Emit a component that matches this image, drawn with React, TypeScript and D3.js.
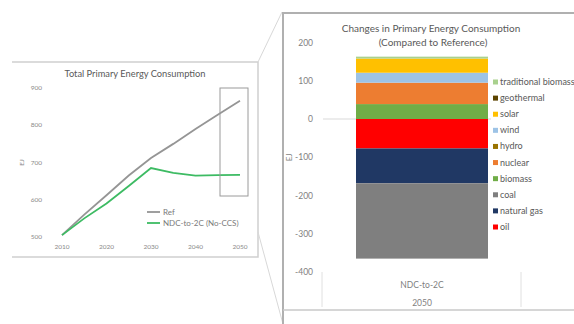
import React from 'react';
import * as d3 from 'd3';

// left chart: total primary energy consumption (EJ)
const years = [2010, 2015, 2020, 2025, 2030, 2035, 2040, 2045, 2050];
const refValues = [505, 560, 612, 665, 712, 750, 790, 828, 866];
const ndcValues = [505, 550, 590, 637, 685, 672, 665, 666, 667];
const leftYTicks = [500, 600, 700, 800, 900];
const leftXTicks = [2010, 2020, 2030, 2040, 2050];

// right chart: changes in 2050 vs reference (EJ), stacking order
const fuels = ['oil', 'natural gas', 'coal', 'biomass', 'nuclear', 'hydro', 'wind', 'solar', 'geothermal', 'traditional biomass'];
const changes = [-77, -91, -197, 39, 56, 0, 26, 37, 0, 5];
const fuelColors = ['#ff0000', '#203864', '#7f7f7f', '#70ad47', '#ed7d31', '#997300', '#9dc3e6', '#ffc000', '#5c4400', '#a9d18e'];
const rightYTicks = [200, 100, 0, -100, -200, -300, -400];
const scenario = 'NDC-to-2C';
const scenarioYear = '2050';

const FONT = 'Lato, "Open Sans", sans-serif';

function LeftChart() {
  const x = d3.scaleLinear().domain([2010, 2050]).range([62, 240]);
  const y = d3.scaleLinear().domain([500, 900]).range([237, 88]);
  const line = d3.line<number>().x((_, i) => x(years[i])).y(d => y(d));
  return (
    <g fontFamily={FONT}>
      <path d="M12,62H258V257H12" fill="#fff" stroke="#d0d0d0" strokeWidth={1.5} />
      <text x={135} y={77} textAnchor="middle" fontSize={9.3} fill="#595959">Total Primary Energy Consumption</text>
      {leftYTicks.map(t => (
        <text key={t} x={42} y={y(t) + 2} textAnchor="end" fontSize={6.5} fill="#8a8a8a">{t}</text>
      ))}
      <text transform={`translate(22,${y(700)}) rotate(-90)`} textAnchor="middle" fontSize={6.5} fill="#8a8a8a" dy={2}>EJ</text>
      {leftXTicks.map(t => (
        <text key={t} x={x(t)} y={249} textAnchor="middle" fontSize={6.5} fill="#8a8a8a">{t}</text>
      ))}
      <path d={line(refValues) || ''} fill="none" stroke="#959595" strokeWidth={1.8} />
      <path d={line(ndcValues) || ''} fill="none" stroke="#3dbb63" strokeWidth={1.8} />
      <line x1={147} x2={160} y1={212} y2={212} stroke="#959595" strokeWidth={1.8} />
      <text x={163} y={215} fontSize={8} fill="#7a7a7a">Ref</text>
      <line x1={147} x2={160} y1={223} y2={223} stroke="#3dbb63" strokeWidth={1.8} />
      <text x={163} y={226} fontSize={8} fill="#7a7a7a">NDC-to-2C (No-CCS)</text>
      <rect x={220} y={88} width={28} height={108} fill="none" stroke="#9a9a9a" strokeWidth={1} />
    </g>
  );
}

function RightChart() {
  const y = d3.scaleLinear().domain([-400, 200]).range([272, 42.5]);
  const x = d3.scaleBand().domain([scenario]).range([323, 521]).paddingInner(0).paddingOuter(0.25);
  const series = d3.stack<number[]>()
    .keys(fuels.map((_, i) => String(i)))
    .value((d, k) => d[+k])
    .offset(d3.stackOffsetDiverging)([changes]);
  const legendY = d3.scalePoint().domain(d3.reverse(fuels)).range([82, 227]);
  return (
    <g fontFamily={FONT}>
      <line x1={x.range()[0]} x2={x.range()[1]} y1={y(0)} y2={y(0)} stroke="#d9d9d9" strokeWidth={1} />
      {series.map((s, i) => (
        <rect key={fuels[i]} x={x(scenario)} width={x.bandwidth()}
          y={y(s[0][1])} height={Math.max(0, y(s[0][0]) - y(s[0][1]))} fill={fuelColors[i]} />
      ))}
      <text x={431} y={32} textAnchor="middle" fontSize={10} fill="#595959">Changes in Primary Energy Consumption</text>
      <text x={433} y={46} textAnchor="middle" fontSize={10} fill="#595959">(Compared to Reference)</text>
      {rightYTicks.map(t => (
        <text key={t} x={313} y={y(t) + 3} textAnchor="end" fontSize={8.5} fill="#7f7f7f">{t}</text>
      ))}
      <text transform={`translate(289,${y(-100)}) rotate(-90)`} textAnchor="middle" dy={3} fontSize={8} fill="#7f7f7f">EJ</text>
      <line x1={322} x2={322} y1={272} y2={307} stroke="#e0e0e0" />
      <line x1={521} x2={521} y1={272} y2={307} stroke="#e0e0e0" />
      <text x={422} y={288} textAnchor="middle" fontSize={8.5} fill="#7f7f7f">{scenario}</text>
      <text x={422} y={306} textAnchor="middle" fontSize={8.5} fill="#7f7f7f">{scenarioYear}</text>
      {fuels.map((f, i) => (
        <g key={f}>
          <rect x={491} y={legendY(f)! - 6} width={83} height={12} fill="#fff" />
          <rect x={493} y={legendY(f)! - 2.5} width={5} height={5} fill={fuelColors[i]} />
          <text x={500} y={legendY(f)! + 3} fontSize={9} fill="#595959">{f}</text>
        </g>
      ))}
    </g>
  );
}

export default function App() {
  return (
    <svg width={574} height={324} style={{ position: 'absolute', left: 0, top: 0, background: '#fff' }}>
      <rect width={574} height={324} fill="#fff" />
      <LeftChart />
      <line x1={258} y1={62} x2={282} y2={12} stroke="#d8d8d8" strokeWidth={1} />
      <line x1={258} y1={232} x2={283} y2={324} stroke="#d8d8d8" strokeWidth={1} />
      <RightChart />
      <line x1={283} y1={12} x2={283} y2={324} stroke="#b0b0b0" strokeWidth={2} />
      <line x1={283} y1={13} x2={574} y2={13} stroke="#b0b0b0" strokeWidth={2} />
      <line x1={283} y1={310} x2={574} y2={310} stroke="#c8c8c8" strokeWidth={1.5} />
    </svg>
  );
}
